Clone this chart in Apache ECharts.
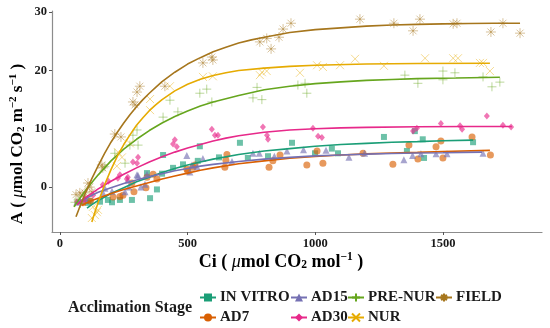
<!DOCTYPE html>
<html><head><meta charset="utf-8">
<script src="https://cdn.jsdelivr.net/npm/echarts@6/dist/echarts.min.js"></script>
<style>html,body{margin:0;padding:0;background:#fff}#c{width:550px;height:328px}</style>
</head><body><div id="c"></div>
<script>
const xTicks=[0,500,1000,1500];
const yTicks=[0,10,20,30];
const stages=['IN VITRO','AD7','AD15','AD30','PRE-NUR','NUR','FIELD'];
const colors=['#1B9E77','#D95F02','#7570B3','#E7298A','#66A61E','#E6AB02','#A6761D'];

const inVitroPts=[[110,-2.7],[117,-2.4],[157,-2.5],[188,-2.2],[204,-2.6],[235,-2.2],[282,-2.2],[341,2.4],[353,-1.9],[380,-0.4],[400,2.3],[404,5.5],[443,3.3],[482,3.9],[540,4.5],[548,7.0],[623,5.1],[705,7.6],[736,5.0],[815,5.3],[909,7.6],[999,5.8],[1065,6.6],[1089,5.8],[1269,8.6],[1359,6.2],[1390,9.6],[1421,8.2],[1426,5.0],[1618,7.7]];
const ad7Pts=[[90,-2.7],[120,-2.4],[208,-1.7],[235,-1.6],[247,-1.4],[282,0.7],[290,-0.8],[337,-0.1],[341,1.7],[365,2.2],[380,1.4],[497,3.1],[501,2.7],[521,3.4],[529,3.8],[646,3.4],[650,4.6],[654,5.6],[819,3.4],[834,4.5],[862,5.5],[967,3.8],[1007,6.2],[1030,4.1],[1187,5.8],[1304,3.9],[1367,7.2],[1402,4.8],[1473,6.9],[1492,7.9],[1500,5.0],[1614,8.6],[1686,5.5]];
const ad15Pts=[[66,-2.6],[80,-2.4],[100,-2.0],[169,-1.0],[176,-0.2],[204,-0.7],[255,-0.8],[266,1.2],[270,0],[302,2.1],[306,2.0],[317,0],[333,0.5],[341,2.2],[497,5.4],[509,2.6],[517,3.8],[537,3.5],[560,4.9],[674,4.4],[756,5.8],[781,5.8],[840,5.3],[889,6.2],[954,6.4],[1042,6.3],[1132,5.1],[1193,5.8],[1347,4.7],[1381,5.4],[1414,5.7],[1473,5.7],[1516,5.7],[1657,5.8]];
const ad30Pts=[[67,-2.5],[95,-2.2],[130,-1.4],[168,0.4],[190,1.0],[227,1.5],[235,2.1],[262,1.4],[266,1.7],[286,4.3],[302,4.1],[306,5.1],[443,7.4],[450,8.1],[458,6.9],[595,9.9],[607,8.9],[619,8.9],[795,10.3],[811,8.9],[815,8.2],[991,10.1],[1011,8.7],[1026,8.5],[1383,9.6],[1398,10.1],[1492,10.9],[1567,10.5],[1575,9.9],[1672,12.2],[1735,10.6],[1767,10.3]];
const preNurPts=[[59,-2.6],[71,-2.2],[80,-2.8],[176,3.5],[215,5.8],[255,4.1],[274,7.2],[286,8.9],[302,9.8],[306,7.2],[404,12.0],[431,14.9],[462,12.9],[548,16.1],[575,16.8],[595,14.6],[756,15.3],[772,17.1],[791,15.0],[932,17.5],[960,17.8],[967,16.1],[1351,19.2],[1402,17.8],[1500,19.9],[1500,18.4],[1547,19.6],[1657,18.9],[1692,17.2],[1723,18.0]];
const nurPts=[[125,-5.3],[129,-3.4],[137,-4.8],[145,-4.3],[149,-3.9],[223,3.6],[227,6.0],[243,5.1],[274,7.5],[353,15.1],[353,13.2],[431,17.3],[560,18.9],[599,19.0],[783,19.2],[791,19.7],[810,19.9],[940,19.6],[1007,20.9],[1030,20.6],[1097,20.9],[1156,22.0],[1269,20.8],[1430,22.1],[1540,22.1],[1559,22.1],[1645,21.3],[1657,21.3],[1684,19.9]];
const fieldPts=[[63,-1.3],[78,-1.0],[90,-1.5],[98,-1.0],[110,0.7],[117,0],[125,-0.8],[164,3.8],[168,3.3],[215,9.1],[239,8.6],[286,14.6],[294,14.1],[302,16.3],[313,17.3],[411,17.3],[560,21.3],[595,22.3],[599,21.8],[783,24.9],[810,25.5],[827,23.7],[858,25.7],[874,27.1],[905,28.1],[1175,28.8],[1308,28.1],[1383,26.8],[1410,28.8],[1540,28.0],[1555,28.1],[1688,26.6],[1735,28.1],[1802,26.4]];

const inVitroFit=[[106,-3.6],[125,-3.0],[150,-2.3],[175,-1.7],[200,-1.1],[250,-0.1],[300,0.9],[350,1.7],[400,2.5],[450,3.2],[500,3.8],[550,4.3],[600,4.8],[700,5.6],[800,6.2],[900,6.6],[1000,7.0],[1100,7.3],[1200,7.5],[1300,7.7],[1400,7.8],[1500,7.95],[1618,8.05]];
const ad7Fit=[[86,-3.1],[100,-2.8],[125,-2.3],[150,-1.9],[200,-1.1],[250,-0.4],[300,0.2],[350,0.8],[400,1.4],[450,1.9],[500,2.4],[550,2.9],[600,3.3],[700,4.0],[800,4.5],[900,4.95],[1000,5.25],[1100,5.5],[1200,5.7],[1300,5.85],[1400,5.95],[1500,6.1],[1684,6.3]];
const ad15Fit=[[66,-2.8],[86,-2.3],[100,-2.0],[125,-1.4],[150,-0.9],[200,-0.1],[250,0.6],[300,1.2],[350,1.8],[400,2.3],[450,2.8],[500,3.2],[550,3.6],[600,3.9],[700,4.4],[800,4.8],[900,5.1],[1000,5.35],[1100,5.5],[1200,5.65],[1300,5.75],[1400,5.85],[1500,5.9],[1653,6.0]];
const ad30Fit=[[67,-3.0],[100,-1.8],[150,-0.3],[200,1.0],[250,2.2],[300,3.3],[350,4.3],[400,5.2],[450,6.0],[500,6.7],[550,7.3],[600,7.9],[650,8.4],[700,8.8],[800,9.4],[900,9.8],[1000,10.0],[1100,10.15],[1200,10.25],[1400,10.35],[1600,10.4],[1770,10.4]];
const preNurFit=[[55,-3.4],[75,-2.1],[100,-0.6],[125,0.8],[150,2.1],[175,3.3],[200,4.5],[250,6.5],[300,8.2],[350,9.7],[400,11.0],[450,12.1],[500,13.05],[550,13.9],[600,14.6],[700,15.7],[800,16.7],[900,17.3],[1000,17.75],[1100,18.05],[1200,18.3],[1300,18.45],[1400,18.6],[1550,18.7],[1723,18.85]];
const nurFit=[[125,-6.0],[140,-3.9],[155,-2.0],[175,0.4],[200,3.0],[225,5.3],[250,7.3],[275,9.0],[300,10.6],[325,11.9],[350,13.1],[375,14.1],[400,15.0],[450,16.5],[500,17.65],[550,18.5],[600,19.15],[650,19.6],[700,20.0],[800,20.4],[900,20.7],[1000,20.9],[1200,21.1],[1400,21.2],[1684,21.25]];
const fieldFit=[[63,-5.1],[75,-3.7],[100,-1.0],[125,1.45],[150,3.7],[175,5.8],[200,7.7],[225,9.4],[250,11.0],[275,12.45],[300,13.8],[325,15.0],[350,16.1],[375,17.1],[400,18.1],[450,19.7],[500,21.1],[550,22.2],[600,23.2],[650,24.0],[700,24.7],[750,25.25],[800,25.7],[900,26.5],[1000,27.0],[1100,27.3],[1200,27.6],[1300,27.8],[1400,27.9],[1500,28.0],[1600,28.05],[1700,28.1],[1802,28.1]];

const allPts=[inVitroPts,ad7Pts,ad15Pts,ad30Pts,preNurPts,nurPts,fieldPts];
const allFits=[inVitroFit,ad7Fit,ad15Fit,ad30Fit,preNurFit,nurFit,fieldFit];

const PLUS='path://M5,0L5,10M0,5L10,5';
const CROSS='path://M0,0L10,10M0,10L10,0';
const STAR='path://M5,0L5,10M0,5L10,5M1.5,1.5L8.5,8.5M1.5,8.5L8.5,1.5';
const symbols=['rect','circle','triangle','diamond',PLUS,CROSS,STAR];
const sizes=[6,7,7,[6,7],9,8,10];
const stroked=[false,false,false,false,true,true,true];

const FONT='Liberation Serif';
function rgba(hex,a){const n=parseInt(hex.slice(1),16);return `rgba(${n>>16},${(n>>8)&255},${n&255},${a})`;}

const series=[];
stages.forEach((s,i)=>{
  series.push({name:s,type:'line',data:allFits[i],smooth:false,showSymbol:false,symbol:symbols[i],
    lineStyle:{color:colors[i],width:1.6},itemStyle:{color:colors[i],borderColor:colors[i],borderWidth:stroked[i]?1.5:0},z:4,silent:true});
});
stages.forEach((s,i)=>{
  const st=stroked[i]?{color:rgba(colors[i],0.55),borderColor:rgba(colors[i],0.55),borderWidth:1}:{color:rgba(colors[i],0.8)};
  series.push({name:s,type:'scatter',data:allPts[i],symbol:symbols[i],symbolSize:sizes[i],itemStyle:st,z:2,silent:true});
});

const legCenters=[[207,297],[207,317],[298,297],[298,317],[355,297],[355,317],[443,297]];
const legends=stages.map((s,i)=>({data:[s],left:legCenters[i][0]-8,top:legCenters[i][1]-7,itemWidth:16,itemHeight:10,itemGap:0,
  selectedMode:false,padding:0,textStyle:{fontFamily:FONT,fontWeight:'bold',fontSize:15,color:'#1a1a1a',padding:[0,0,0,-1]}}));

function mkRich(big,small){return {
  b:{fontFamily:FONT,fontWeight:'bold',fontSize:big,color:'#111'},
  i:{fontFamily:FONT,fontStyle:'italic',fontSize:big,color:'#111'},
  sup:{fontFamily:FONT,fontWeight:'bold',fontSize:small,color:'#111',padding:[0,0,9,0]},
  sub:{fontFamily:FONT,fontWeight:'bold',fontSize:small,color:'#111',padding:[7,0,0,0]}
};}
const fmt=v=>String(v);

const chart=echarts.init(document.getElementById('c'),null,{renderer:'canvas'});
chart.setOption({
  animation:false,
  backgroundColor:'#fff',
  grid:{left:52,right:8,top:11,bottom:96,containLabel:false,outerBoundsMode:'none'},
  xAxis:{type:'value',min:-31,max:1888,
    axisLine:{onZero:false,lineStyle:{color:'#8c8c8c',width:1.2}},
    axisTick:{customValues:xTicks,length:3,lineStyle:{color:'#555'}},
    axisLabel:{customValues:xTicks,formatter:fmt,fontFamily:FONT,fontWeight:'bold',fontSize:12.5,color:'#1a1a1a',margin:5},
    splitLine:{show:false}},
  yAxis:{type:'value',min:-7.7,max:30.2,
    axisLine:{onZero:false,show:true,lineStyle:{color:'#8c8c8c',width:1.2}},
    axisTick:{show:true,customValues:yTicks,length:3,lineStyle:{color:'#555'}},
    axisLabel:{customValues:yTicks,formatter:fmt,fontFamily:FONT,fontWeight:'bold',fontSize:12.5,color:'#1a1a1a',margin:5},
    splitLine:{show:false}},
  legend:legends,
  graphic:[
    {type:'text',x:18,y:144,rotation:Math.PI/2,style:{text:'{b|A ( }{i|μ}{b|mol CO}{sub|2}{b| m}{sup|−2}{b| s}{sup|−1}{b| )}',rich:mkRich(17,11),align:'center',verticalAlign:'middle'}},
    {type:'text',x:281,y:262,style:{text:'{b|Ci ( }{i|μ}{b|mol CO}{sub|2}{b| mol}{sup|−1}{b| )}',rich:mkRich(18,11.5),align:'center',verticalAlign:'middle'}},
    {type:'text',x:68,y:308,style:{text:'Acclimation Stage',fontFamily:FONT,fontWeight:'bold',fontSize:16,fill:'#1a1a1a',align:'left',verticalAlign:'middle'}}
  ],
  series:series
});
</script></body></html>
